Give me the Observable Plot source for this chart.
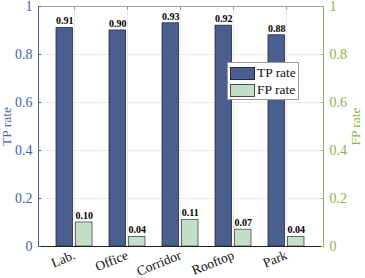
<!DOCTYPE html>
<html><head><meta charset="utf-8">
<script src="https://cdn.jsdelivr.net/npm/d3@7"></script>
<script src="https://cdn.jsdelivr.net/npm/@observablehq/plot@0.6"></script>
<style>
body{margin:0;background:#fff;}
#wrap{position:relative;width:365px;height:278px;}
#legend{position:absolute;left:227px;top:62px;width:72px;height:38px;border:1px solid #9a9a9a;background:#fff;box-sizing:border-box;font-family:"Liberation Serif",serif;font-size:13.5px;color:#111;}
.row{position:absolute;left:2px;height:14px;display:flex;align-items:center;}
.sw{width:25px;height:13px;box-sizing:border-box;margin-right:2px;}
</style></head>
<body><div id="wrap"><div id="legend"></div></div>
<script>
const categories = ["Lab.", "Office", "Corridor", "Rooftop", "Park"];
const tpRate = [0.91, 0.90, 0.93, 0.92, 0.88];
const fpRate = [0.10, 0.04, 0.11, 0.07, 0.04];
const yTicks = [0, 0.2, 0.4, 0.6, 0.8, 1];
const seriesNames = ["TP rate", "FP rate"];

const tpColor = "#4b5f8f", tpStroke = "#1e2a44";
const fpColor = "#c3dfc7", fpStroke = "#4a4a4a";
const leftColor = "#4c62a0", rightColor = "#86b84a";

const tp = categories.map((c, i) => ({cat: c, v: tpRate[i]}));
const fp = categories.map((c, i) => ({cat: c, v: fpRate[i]}));
const half = 19.5;
const fmt = d3.format(".2f");
const tf = d => String(d);

const chart = Plot.plot({
  width: 365, height: 278,
  marginLeft: 38, marginRight: 42, marginTop: 6, marginBottom: 32,
  style: {fontFamily: "Liberation Serif, serif", background: "white"},
  x: {domain: categories, padding: 0.316, axis: null},
  y: {type: "linear", domain: [0, 1], axis: null},
  marks: [
    Plot.ruleY(yTicks.slice(1, -1), {stroke: "#ebebeb"}),
    Plot.ruleX(categories, {x: d => d, stroke: "#ebebeb"}),
    Plot.ruleX(categories, {x: d => d, y1: 1, y2: 0.985, stroke: "#909090"}),
    Plot.barY(tp, {x: "cat", y: "v", fill: tpColor, stroke: tpStroke, strokeWidth: 0.8, insetRight: half}),
    Plot.barY(fp, {x: "cat", y: "v", fill: fpColor, stroke: fpStroke, strokeWidth: 0.8, insetLeft: half}),
    Plot.text(tp, {x: "cat", y: "v", text: d => fmt(d.v), dx: -half / 2, dy: -7, fontWeight: "bold", fontSize: 10, fill: "#000"}),
    Plot.text(fp, {x: "cat", y: "v", text: d => fmt(d.v), dx: half / 2, dy: -7, fontWeight: "bold", fontSize: 10, fill: "#000"}),
    Plot.frame({anchor: "top", stroke: "#a0a0a0"}),
    Plot.ruleY([0], {stroke: "#222", strokeWidth: 1}),
    Plot.axisY(yTicks, {anchor: "left", tickFormat: tf, color: leftColor, fontSize: 14, tickSize: -3, tickPadding: 9, label: "TP rate", labelAnchor: "center", labelOffset: 37, labelArrow: "none"}),
    Plot.axisY(yTicks, {anchor: "right", tickFormat: tf, color: rightColor, fontSize: 14, tickSize: -3, tickPadding: 9, label: "FP rate", labelAnchor: "center", labelOffset: 36, labelArrow: "none"}),
    Plot.frame({anchor: "left", stroke: leftColor}),
    Plot.frame({anchor: "right", stroke: rightColor}),
    Plot.axisX({anchor: "bottom", tickSize: 0, tickRotate: -22, fontSize: 13.5, color: "#111", tickPadding: 8, label: null})
  ]
});
chart.querySelectorAll("text").forEach(t => {
  if (t.textContent === "TP rate" || t.textContent === "FP rate") t.style.fontSize = "13.5px";
});
document.getElementById("wrap").prepend(chart);

const legend = document.getElementById("legend");
[[tpColor, tpStroke], [fpColor, fpStroke]].forEach(([f, s], i) => {
  const row = document.createElement("div");
  row.className = "row";
  row.style.top = (3 + i * 17) + "px";
  row.innerHTML = `<div class="sw" style="background:${f};border:1px solid ${s}"></div><span>${seriesNames[i]}</span>`;
  legend.appendChild(row);
});
</script></body></html>
